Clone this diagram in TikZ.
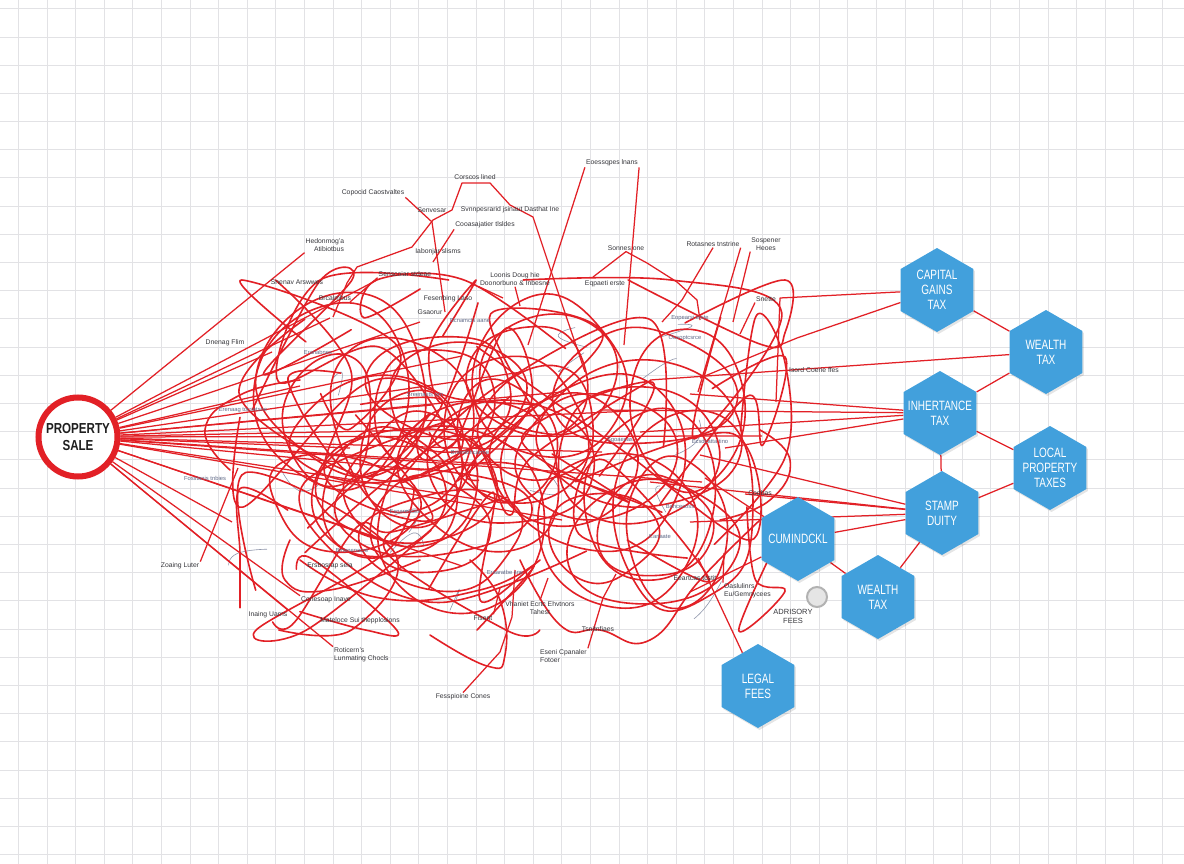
\documentclass[tikz,border=0pt]{standalone}
\usepackage{fontspec}
\setmainfont{Liberation Sans}
\newfontfamily\narrowfont[FakeStretch=0.8]{Liberation Sans}
\newfontfamily\hexfamily[FakeStretch=0.74]{Liberation Sans}
\usetikzlibrary{shapes.geometric,shadows}
\pgfdeclarelayer{bg}
\pgfsetlayers{bg,main}
\definecolor{tred}{RGB}{226,32,38}
\definecolor{hexblue}{RGB}{66,160,220}
\definecolor{gridgray}{RGB}{226,226,229}
\definecolor{labgray}{RGB}{55,55,60}
\definecolor{snipgray}{RGB}{95,105,135}
\newcommand{\hexfont}{\hexfamily\fontsize{13.5}{15}\selectfont}
\newcommand{\psfont}{\narrowfont\bfseries\fontsize{14.5}{17}\selectfont}
\begin{document}
\begin{tikzpicture}[x=1pt,y=-1pt,
  gridline/.style={draw=gridgray, line width=1.3pt},
  tangle/.style={draw=tred, line width=1.6pt, line join=round, line cap=round},
  faint/.style={draw=snipgray!70, line width=0.6pt, line cap=round},
  redlink/.style={draw=tred, line width=1.25pt, line join=round},
  fan/.style={draw=tred, line width=1.25pt},
  hexshape/.style={regular polygon, regular polygon sides=6, shape border rotate=30,
    minimum size=84pt, inner sep=0pt, fill=hexblue,
    drop shadow={fill=black, opacity=0.10, shadow xshift=1.5pt, shadow yshift=-2pt}},
  hextext/.style={text=white, align=center, font=\hexfont, inner sep=0pt},
  lab/.style={font=\fontsize{6.8}{8}\selectfont, text=labgray, inner sep=1pt, align=center},
  snip/.style={font=\fontsize{5.8}{7}\selectfont, text=snipgray, inner sep=0.5pt}]

\useasboundingbox (0,0) rectangle (1184,864);

% hexagons
\node[hexshape] (cgt)   at (937,290) {};
\node[hexshape] (wt1)   at (1046,352) {};
\node[hexshape] (inh)   at (940,413) {};
\node[hexshape] (local) at (1050,468) {};
\node[hexshape] (stamp) at (942,513) {};
\node[hexshape] (cum)   at (798,539) {};
\node[hexshape] (wt2)   at (878,597) {};
\node[hexshape] (legal) at (758,686) {};
\node[hextext] (cgt-t)   at (cgt) {CAPITAL\\GAINS\\TAX};
\node[hextext] (wt1-t)   at (wt1) {WEALTH\\TAX};
\node[hextext] (inh-t)   at (inh) {INHERTANCE\\TAX};
\node[hextext] (local-t) at (local) {LOCAL\\PROPERTY\\TAXES};
\node[hextext] (stamp-t) at (stamp) {STAMP\\DUITY};
\node[hextext] (cum-t)   at (cum) {CUMINDCKL};
\node[hextext] (wt2-t)   at (wt2) {WEALTH\\TAX};
\node[hextext] (legal-t) at (legal) {LEGAL\\FEES};

% property sale circle
\node[circle, draw=tred, line width=6pt, minimum size=79pt, inner sep=0pt, fill=white,
      text=black!88, font=\psfont, align=center] (ps) at (78,437) {PROPERTY\\SALE};

% labels
\node[lab] (l1) at (612,163) {Eoessqpes lnans};
\node[lab] (l2) at (475,177) {Corscos lined};
\node[lab] (l3) at (373,193) {Copocid Caostvaltes};
\node[lab] (l4) at (432,210) {Senvesar};
\node[lab] (l5) at (510,210) {Svnnpesrarid jsinaut Dasthat Ine};
\node[lab] (l6) at (485,225) {Cooasajatier tlsldes};
\node[lab] (l7) at (325,245) {Hedonmog'a\\\hspace*{8pt}Atibiotbus};
\node[lab] (l8) at (438,252) {Iabonjar slisms};
\node[lab] (l9) at (297,282) {Snenav Arswwes};
\node[lab] (l10) at (405,274) {Senscoiar stdeae};
\node[lab] (l11) at (515,279) {Loonis Doug hie\\Doonorbuno \& Inbesne};
\node[lab] (l12) at (335,298) {Brcalmbus};
\node[lab] (l13) at (448,299) {Fesenbing Laso};
\node[lab] (l14) at (430,312) {Gsaorur};
\node[lab] (l15) at (626,248) {Sonnes one};
\node[lab] (l16) at (605,284) {Eqpaeti erste};
\node[lab] (l17) at (713,244) {Rotasnes tnstrine};
\node[lab] (l18) at (766,244) {Sospener\\Heoes};
\node[lab] (l19) at (766,299) {Snette};
\node[lab] (l20) at (814,370) {Isord Coerie ffes};
\node[lab] (l21) at (225,343) {Dnenag Flim};
\node[lab] (l22) at (180,566) {Zoaing Luter};
\node[lab] (l23) at (268,615) {Inaing Uarns};
\node[lab] (l24) at (326,600) {Conesoap Inave};
\node[lab] (l25) at (360,621) {Mateloce Sui thepplosions};
\node[lab, anchor=west, align=left] (l26) at (333,655) {Roticern's\\Lunmating Chocls};
\node[lab] (l27) at (463,697) {Fesspioine Cones};
\node[lab, anchor=west, align=left] (l28) at (539,656) {Eseni Cpanaler\\Fotoer};
\node[lab] (l29) at (598,629) {Tsnitnfiaes};
\node[lab] (l30) at (540,608) {Vhaniet Ecrtc Ehvtnors\\Tahest};
\node[lab] (l31) at (483,618) {Fisent};
\node[lab] (l32) at (695,578) {Eeartcas tcstit};
\node[lab, anchor=west, align=left] (l33) at (723,591) {Oaslulinrs\\Eu/Gemnycees};
\node[lab] (l34) at (330,566) {Ersbosrap seia};
\node[lab] (l35) at (760,493) {Codbas};
\node[lab, font=\fontsize{7.5}{9}\selectfont] (adv) at (793,616) {ADRISORY\\FEES};
\node[circle, draw=black!30, line width=2pt, fill=black!10, minimum size=20pt, inner sep=0pt] (gc) at (817,597) {};

% small snippets inside the tangle
\node[snip] (s1) at (470,321) {Bcnamcts aane};
\node[snip] (s2) at (690,318) {Eopearsi erste};
\node[snip] (s3) at (685,338) {Ousoptcsrce};
\node[snip] (s4) at (243,410) {Erenaag tocsetsne};
\node[snip] (s5) at (620,440) {Sgoaecas};
\node[snip] (s6) at (710,441) {Ecsdcatta tino};
\node[snip] (s7) at (352,551) {Bmenenacre};
\node[snip] (s8) at (405,512) {Esnareaces};
\node[snip] (s9) at (505,572) {Eraaratbe sne};
\node[snip] (s10) at (680,506) {Bahcecoss};
\node[snip] (s11) at (318,352) {Eranabnes};
\node[snip] (s12) at (470,452) {Bnerabhcarme};
\node[snip] (s13) at (205,478) {Fosstanis tnbies};
\node[snip] (s14) at (660,537) {Eanaate};
\node[snip] (s15) at (425,395) {Sreenasts orn};

\begin{pgfonlayer}{bg}
\fill[white] (0,0) rectangle (1184,864);
% grid (snapped to pixel centres)
\foreach \k in {0,...,41}{
  \pgfmathsetmacro\gx{round(18+28.6*\k)+0.5}
  \draw[gridline] (\gx,0) -- (\gx,864);
}
\foreach \k in {0,...,30}{
  \pgfmathsetmacro\gy{round(8.3+28.2*\k)+0.5}
  \draw[gridline] (0,\gy) -- (1184,\gy);
}

% faint grey squiggles inside the tangle
\pgfmathsetseed{77}
\foreach \i in {1,...,14}{
  \pgfmathsetmacro\xa{260+480*rnd}
  \pgfmathsetmacro\ya{320+300*rnd}
  \pgfmathsetmacro\xb{\xa+(rnd-0.5)*60}
  \pgfmathsetmacro\yb{\ya+(rnd-0.5)*50}
  \pgfmathsetmacro\xc{\xb+(rnd-0.5)*60}
  \pgfmathsetmacro\yc{\yb+(rnd-0.5)*50}
  \draw[faint] plot[smooth, tension=0.9] coordinates {(\xa,\ya) (\xb,\yb) (\xc,\yc)};
}

% tangle: closed loops
\pgfmathsetseed{31}
\foreach \i in {1,...,40}{
  \pgfmathsetmacro\cx{300+400*rnd}
  \pgfmathsetmacro\cy{375+170*rnd}
  \pgfmathsetmacro\rx{45+60*rnd}
  \pgfmathsetmacro\ry{45+55*rnd}
  \pgfmathsetmacro\ph{360*rnd}
  \pgfmathsetmacro\xa{\cx+\rx*(0.75+0.45*rnd)*cos(\ph)}
  \pgfmathsetmacro\ya{\cy+\ry*(0.75+0.45*rnd)*sin(\ph)}
  \pgfmathsetmacro\xb{\cx+\rx*(0.75+0.45*rnd)*cos(\ph+72)}
  \pgfmathsetmacro\yb{\cy+\ry*(0.75+0.45*rnd)*sin(\ph+72)}
  \pgfmathsetmacro\xc{\cx+\rx*(0.75+0.45*rnd)*cos(\ph+144)}
  \pgfmathsetmacro\yc{\cy+\ry*(0.75+0.45*rnd)*sin(\ph+144)}
  \pgfmathsetmacro\xd{\cx+\rx*(0.75+0.45*rnd)*cos(\ph+216)}
  \pgfmathsetmacro\yd{\cy+\ry*(0.75+0.45*rnd)*sin(\ph+216)}
  \pgfmathsetmacro\xe{\cx+\rx*(0.75+0.45*rnd)*cos(\ph+288)}
  \pgfmathsetmacro\ye{\cy+\ry*(0.75+0.45*rnd)*sin(\ph+288)}
  \draw[tangle] plot[smooth cycle, tension=0.9] coordinates {(\xa,\ya) (\xb,\yb) (\xc,\yc) (\xd,\yd) (\xe,\ye)};
}

% tangle: open swoops
\pgfmathsetseed{503}
\foreach \i in {1,...,30}{
  \pgfmathsetmacro\xa{240+530*rnd}
  \pgfmathsetmacro\ya{290+330*rnd}
  \pgfmathsetmacro\xb{max(240,min(785,\xa+(rnd-0.5)*320))}
  \pgfmathsetmacro\yb{max(280,min(630,\ya+(rnd-0.5)*260))}
  \pgfmathsetmacro\xc{max(240,min(785,\xb+(rnd-0.5)*320))}
  \pgfmathsetmacro\yc{max(280,min(630,\yb+(rnd-0.5)*260))}
  \pgfmathsetmacro\xd{max(240,min(785,\xc+(rnd-0.5)*320))}
  \pgfmathsetmacro\yd{max(280,min(630,\yc+(rnd-0.5)*260))}
  \pgfmathsetmacro\xe{max(240,min(785,\xd+(rnd-0.5)*320))}
  \pgfmathsetmacro\ye{max(280,min(630,\yd+(rnd-0.5)*260))}
  \draw[tangle] plot[smooth, tension=0.6] coordinates {(\xa,\ya) (\xb,\yb) (\xc,\yc) (\xd,\yd) (\xe,\ye)};
}

% hand-placed outer curves
\draw[tangle] plot[smooth, tension=0.8] coordinates {(430,635) (487,666) (505,655) (500,600) (470,560)};
\draw[tangle] plot[smooth, tension=0.8] coordinates {(520,560) (560,625) (600,630) (650,640) (700,580) (760,520)};
\draw[tangle] plot[smooth, tension=0.8] coordinates {(300,560) (380,598) (480,590) (540,560)};
\draw[tangle] plot[smooth, tension=0.8] coordinates {(760,430) (790,460) (770,500) (720,520)};
\draw[tangle] plot[smooth, tension=0.8] coordinates {(230,470) (205,430) (240,395) (300,380)};
\draw[tangle] plot[smooth, tension=0.8] coordinates {(290,540) (285,580) (330,590) (420,560)};

% label connectors
\coordinate (a1) at (528,345);
\coordinate (a2) at (624,345);
\draw[redlink] (l1.south west) -- (a1);
\draw[redlink] (l1.south east) -- (a2);
\coordinate (a3) at (333,317);
\coordinate (a4) at (585,372);
\draw[redlink] (a3) -- (347,283) -- (357,267) -- (412,247) -- (433,220) -- (452,210) -- (462,183) -- (490,183) -- (510,205) -- (533,217) -- (563,307) -- (a4);
\coordinate (a5) at (445,312);
\draw[redlink] (l3.south east) -- (432,222) -- (a5);
\coordinate (a6) at (433,262);
\draw[redlink] (l6.south west) -- (a6);
\coordinate (a7) at (350,302);
\draw[redlink] (l10.south west) -- (a7);
\coordinate (a8) at (503,298);
\coordinate (a9) at (520,306);
\draw[redlink] (l11.south west) -- (a8);
\draw[redlink] (l11.south) -- (a9);
\coordinate (a10) at (593,277);
\coordinate (a11) at (700,320);
\draw[redlink] (a10) -- (l15.south) -- (647,263) -- (677,282) -- (697,300) -- (a11);
\coordinate (a12) at (662,322);
\coordinate (a13) at (698,392);
\draw[redlink] (l17.south) -- (682,300) -- (a12);
\draw[redlink] (l17.south east) -- (a13);
\coordinate (a14) at (733,322);
\draw[redlink] (l18.south west) -- (a14);
\coordinate (a15) at (740,334);
\draw[redlink] (l19.south west) -- (a15);
\coordinate (a16) at (238,468);
\draw[redlink] (l22.north east) -- (a16);
\coordinate (a17) at (515,570);
\draw[redlink] (l27.north) -- (500,652) -- (512,617) -- (a17);
\coordinate (a18) at (500,588);
\draw[redlink] (l31.north east) -- (a18);
\coordinate (a19) at (548,578);
\draw[redlink] (l30.north) -- (a19);
\coordinate (a20) at (616,574);
\draw[redlink] (l28.north east) -- (603,598) -- (a20);
\coordinate (a21) at (724,553);
\draw[redlink] (l33.north west) -- (a21);

% fan from the property sale circle
\foreach \p in {(377,280),(330,318),(420,322),(272,352),(462,356),(522,372),(300,386),(562,392),(432,405),(652,410),(522,428),(762,436),(602,452),(422,470),(702,482),(482,500),(232,522),(562,520),(382,540),(462,566),(350,448),(500,465)}
  \draw[fan] (ps) -- \p;
\draw[fan] (ps) -- (l7.south west);
\draw[fan] (ps) -- (l23.north east);
\draw[fan] (ps) -- (l24.north west);
\draw[fan] (ps) -- (l26.north west);

% lines into the hexagons
\coordinate (t1) at (780,298);
\coordinate (t1b) at (776,402);
\draw[redlink] (t1b) -- (t1) -- (cgt);
\coordinate (t2) at (700,378);
\draw[redlink] (t2) -- (797,338) -- (cgt);
\coordinate (t3) at (650,380);
\draw[redlink] (t3) -- (wt1);
\coordinate (t4) at (690,394);
\coordinate (t5) at (640,432);
\coordinate (t6) at (725,448);
\coordinate (t7) at (600,410);
\foreach \t in {t4,t5,t6,t7} \draw[redlink] (\t) -- (inh);
\coordinate (t8) at (700,455);
\coordinate (t9) at (650,482);
\coordinate (t10) at (745,494);
\coordinate (t11) at (690,522);
\foreach \t in {t8,t9,t10,t11} \draw[redlink] (\t) -- (stamp);
\coordinate (t12) at (705,478);
\coordinate (t13) at (690,592);
\draw[redlink] (t12) -- (cum);
\draw[redlink] (t13) -- (cum);
\coordinate (t14) at (698,558);
\draw[redlink] (t14) -- (legal);

% links between hexagons
\draw[redlink] (cgt) -- (wt1);
\draw[redlink] (wt1) -- (inh);
\draw[redlink] (inh) -- (local);
\draw[redlink] (inh) -- (stamp);
\draw[redlink] (stamp) -- (local);
\draw[redlink] (stamp) -- (cum);
\draw[redlink] (stamp) -- (wt2);
\draw[redlink] (cum) -- (wt2);
\end{pgfonlayer}
\end{tikzpicture}
\end{document}
